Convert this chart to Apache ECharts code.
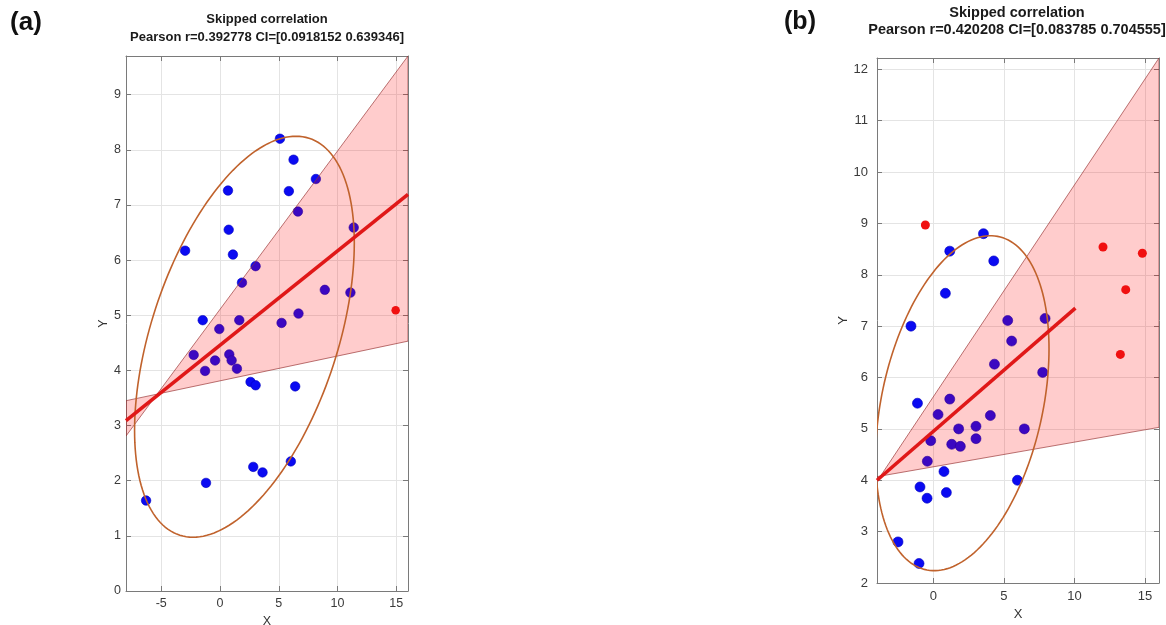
<!DOCTYPE html>
<html><head><meta charset="utf-8">
<script src="https://cdn.jsdelivr.net/npm/echarts@6/dist/echarts.min.js"></script>
<style>html,body{margin:0;padding:0;background:#fff}#c{width:1166px;height:625px}</style>
</head><body><div id="c"></div>
<script>
// ---------- Panel (a) data ----------
const xTicksA = [-5, 0, 5, 10, 15];
const yTicksA = [0, 1, 2, 3, 4, 5, 6, 7, 8, 9];
const blueA = [[5.1,8.2],[6.26,7.82],[8.16,7.47],[0.68,7.26],[5.86,7.25],[6.63,6.88],[0.74,6.55],[11.38,6.59],[-2.97,6.17],[1.1,6.1],[3.03,5.89],[1.87,5.59],[8.92,5.46],[11.1,5.41],[-1.47,4.91],[1.64,4.91],[5.24,4.86],[6.68,5.03],[-0.06,4.75],[-2.24,4.28],[0.79,4.29],[-0.42,4.18],[0.99,4.18],[-1.27,3.99],[1.44,4.03],[2.6,3.79],[3.03,3.73],[6.4,3.71],[6.03,2.35],[2.83,2.25],[3.62,2.15],[-1.19,1.96],[-6.29,1.64]];
const redA = [[14.95,5.09]];
const fitA = [[-8,3.09],[16,7.19]];
const ciA = [[-8,2.81],[16,9.7],[16,4.53],[-8,3.45]];
const ellipseA = {cx:2.08, cy:4.61, sx:9.35, sy:3.635, k:15.9};
const titleA = ['Skipped correlation', 'Pearson r=0.392778 CI=[0.0918152 0.639346]'];

// ---------- Panel (b) data ----------
const xTicksB = [0, 5, 10, 15];
const yTicksB = [2, 3, 4, 5, 6, 7, 8, 9, 10, 11, 12];
const blueB = [[3.55,8.8],[1.16,8.46],[4.28,8.27],[0.85,7.64],[-1.59,7.0],[5.27,7.11],[7.92,7.15],[5.55,6.71],[4.33,6.26],[7.75,6.1],[-1.13,5.5],[1.16,5.58],[0.33,5.28],[4.04,5.26],[1.79,5.0],[3.02,5.05],[6.45,5.0],[-0.19,4.77],[1.3,4.7],[1.91,4.66],[3.02,4.81],[-0.43,4.37],[0.75,4.17],[5.96,4.0],[-0.95,3.87],[0.92,3.76],[-0.45,3.65],[-2.51,2.8],[-1.02,2.38]];
const redB = [[-0.57,8.97],[12.03,8.54],[14.82,8.42],[13.64,7.71],[13.26,6.45]];
const fitB = [[-4,4.0],[10.07,7.35]];
const ciB = [[-4,3.98],[16,12.22],[16,5.03],[-4,4.07]];
const ellipseB = {cx:2.05, cy:5.5, sx:6.15, sy:3.26, k:6.5};
const titleB = ['Skipped correlation', 'Pearson r=0.420208 CI=[0.083785 0.704555]'];

const FONT = "'Liberation Sans', Arial, Helvetica, sans-serif";
const AXIS_COLOR = '#7a7a7a';

function axisPair(kind, grid, min, max, ticks, fs, margin, name, nameGap) {
  const base = {
    type: 'value', gridIndex: grid, min: min, max: max,
    axisLine: {show: true, onZero: false, lineStyle: {color: AXIS_COLOR, width: 1}},
    axisTick: {show: true, inside: true, length: 5, customValues: ticks, lineStyle: {color: AXIS_COLOR}},
  };
  const main = Object.assign({}, base, {
    position: kind === 'x' ? 'bottom' : 'left',
    name: name, nameLocation: 'middle', nameGap: nameGap,
    nameTextStyle: {color: '#333', fontSize: fs, fontFamily: FONT},
    axisLabel: {show: true, customValues: ticks, margin: margin, color: '#3a3a3a', fontSize: fs, fontFamily: FONT},
    splitLine: {show: true, lineStyle: {color: '#e4e4e4', width: 1}}
  });
  const second = Object.assign({}, base, {
    position: kind === 'x' ? 'top' : 'right',
    axisLabel: {show: false}, splitLine: {show: false}
  });
  return [main, second];
}

function ciSeries(xi, yi, pts) {
  return {
    type: 'custom', xAxisIndex: xi, yAxisIndex: yi, z: 3, clip: true, silent: true,
    data: [pts[0]],
    renderItem: function (params, api) {
      return {type: 'polygon', shape: {points: pts.map(p => api.coord(p))},
        style: {fill: 'rgba(255,0,0,0.2)', stroke: 'rgba(150,50,50,0.75)', lineWidth: 0.9}};
    }
  };
}

function ellipseSeries(xi, yi, e) {
  return {
    type: 'custom', xAxisIndex: xi, yAxisIndex: yi, z: 4, clip: true, silent: true,
    data: [[e.cx, e.cy]],
    renderItem: function (params, api) {
      const c = e.k / e.sx;
      const d = Math.sqrt(e.sy * e.sy - c * c);
      const pts = [];
      for (let i = 0; i <= 180; i++) {
        const t = i / 180 * Math.PI * 2;
        pts.push(api.coord([e.cx + e.sx * Math.cos(t), e.cy + c * Math.cos(t) + d * Math.sin(t)]));
      }
      return {type: 'polyline', shape: {points: pts}, style: {stroke: '#c0622c', lineWidth: 1.6, fill: 'none'}};
    }
  };
}

function panelSeries(xi, yi, blue, red, fit, ci, ell, sizeB, sizeR) {
  return [
    {type: 'scatter', xAxisIndex: xi, yAxisIndex: yi, z: 2, data: blue, symbolSize: sizeB,
      itemStyle: {color: '#0a0af2', borderColor: '#0000c0', borderWidth: 0.6, opacity: 1}},
    ciSeries(xi, yi, ci),
    ellipseSeries(xi, yi, ell),
    {type: 'line', xAxisIndex: xi, yAxisIndex: yi, z: 5, data: fit, symbol: 'none',
      lineStyle: {color: '#e01818', width: 3.6}},
    {type: 'scatter', xAxisIndex: xi, yAxisIndex: yi, z: 6, data: red, symbolSize: sizeR,
      itemStyle: {color: '#f01010', opacity: 1}}
  ];
}

function textEl(x, y, text, size, weight, color) {
  return {type: 'text', x: x, y: y, z: 100,
    style: {text: text, fontSize: size, fontWeight: weight, fontFamily: FONT, fill: color,
      align: 'center', verticalAlign: 'middle', textAlign: 'center', textVerticalAlign: 'middle'}};
}

const xa = axisPair('x', 0, -8, 16, xTicksA, 12.5, 6, 'X', 20);
const ya = axisPair('y', 0, 0, 9.7, yTicksA, 12.5, 5, 'Y', 10);
const xb = axisPair('x', 1, -4, 16, xTicksB, 13, 7, 'X', 18);
const yb = axisPair('y', 1, 2, 12.22, yTicksB, 13, 9, 'Y', 15);

const option = {
  animation: false,
  backgroundColor: '#ffffff',
  grid: [
    {left: 126, right: 1166 - 408, top: 56, bottom: 625 - 591, containLabel: false, outerBoundsMode: 'none'},
    {left: 877, right: 1166 - 1159, top: 58, bottom: 625 - 583, containLabel: false, outerBoundsMode: 'none'}
  ],
  xAxis: [xa[0], xa[1], xb[0], xb[1]],
  yAxis: [ya[0], ya[1], yb[0], yb[1]],
  series: [].concat(
    panelSeries(0, 0, blueA, redA, fitA, ciA, ellipseA, 9.5, 8.5),
    panelSeries(2, 2, blueB, redB, fitB, ciB, ellipseB, 10, 9)
  ),
  graphic: [
    textEl(26, 23, '(a)', 26, 'bold', '#111'),
    textEl(800, 22, '(b)', 25, 'bold', '#111'),
    textEl(267, 19, titleA[0], 13, 'bold', '#1a1a1a'),
    textEl(267, 37, titleA[1], 13, 'bold', '#1a1a1a'),
    textEl(1017, 13, titleB[0], 14.5, 'bold', '#1a1a1a'),
    textEl(1017, 30, titleB[1], 14.5, 'bold', '#1a1a1a')
  ]
};

const chart = echarts.init(document.getElementById('c'), null, {renderer: 'canvas'});
chart.setOption(option);
</script>
</body></html>
